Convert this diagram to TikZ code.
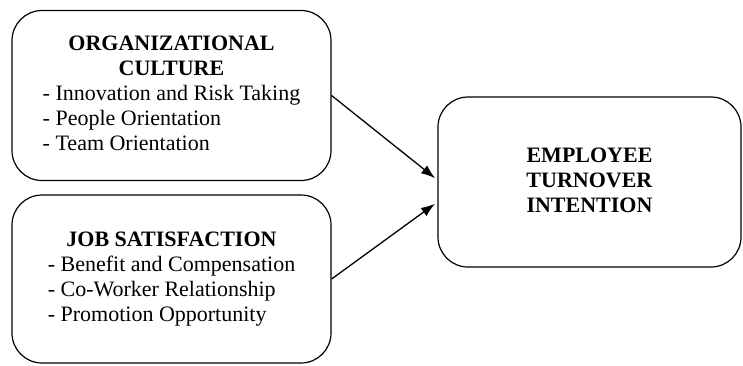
\documentclass[tikz,border=0pt]{standalone}
\usepackage{fontspec}
\setmainfont{Liberation Serif}
\usepackage{tikz}
\usetikzlibrary{arrows.meta}

\begin{document}
\begin{tikzpicture}[>={Latex[length=14pt,width=10pt]}, x=1pt, y=-1pt,
  factor/.style={draw, line width=1.2pt, rounded corners=30pt, minimum width=319pt, minimum height=170pt, inner sep=0pt, font=\fontsize{22}{25}\selectfont},
  link/.style={->, line width=1.3pt, shorten >=3pt}]
  \useasboundingbox (0,0) rectangle (743,365);
  % independent variables
  \node[factor] (ocult) at (171.5,95.5) {\begin{tabular}{@{}l@{}}
      \multicolumn{1}{@{}c@{}}{\textbf{ORGANIZATIONAL}}\\
      \multicolumn{1}{@{}c@{}}{\textbf{CULTURE}}\\
      - Innovation and Risk Taking\\
      - People Orientation\\
      - Team Orientation
    \end{tabular}};
  \node[factor, minimum height=168pt] (jsat) at (171.5,279) {\begin{tabular}{@{}l@{}}
      \multicolumn{1}{@{}c@{}}{\textbf{JOB SATISFACTION}}\\
      - Benefit and Compensation\\
      - Co-Worker Relationship\\
      - Promotion Opportunity
    \end{tabular}};
  % dependent variable
  \node[factor, minimum width=303pt] (tiv) at (589.5,182) {\begin{tabular}{@{}c@{}}
      \textbf{EMPLOYEE}\\
      \textbf{TURNOVER}\\
      \textbf{INTENTION}
    \end{tabular}};
  \draw[link] (ocult.east) -- ([yshift=2pt]tiv.west);
  \draw[link] (jsat.east) -- ([yshift=-20pt]tiv.west);
\end{tikzpicture}
\end{document}
